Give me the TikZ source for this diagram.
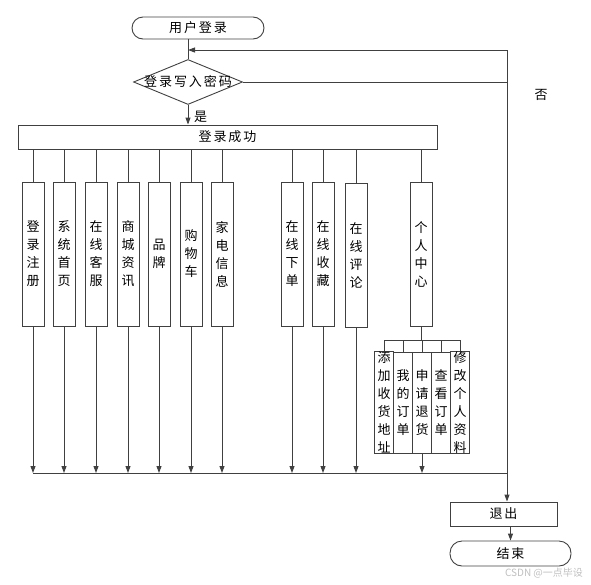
\documentclass[tikz,border=0pt]{standalone}
\usepackage{fontspec}
\newfontfamily\cjk{Noto Sans CJK SC}
\newfontfamily\cjkwide[LetterSpace=15]{Noto Sans CJK SC}
\usetikzlibrary{shapes.geometric,arrows.meta}
\begin{document}
\begin{tikzpicture}[x=1pt,y=-1pt,
  ln/.style={draw=black!75,line width=0.9pt},
  arr/.style={ln,-{Triangle[length=7pt,width=5pt]}},
  vbox/.style={ln,rectangle,minimum width=22pt,minimum height=144pt,inner sep=0pt,
     font=\cjk\fontsize{13}{18}\selectfont,align=center},
  sbox/.style={ln,rectangle,minimum width=19pt,minimum height=101pt,inner sep=0pt,
     font=\cjk\fontsize{13}{18}\selectfont,align=center},
  hbox/.style={ln,rectangle,inner sep=0pt,font=\cjkwide\fontsize{13}{16}\selectfont},
  term/.style={ln,rectangle,rounded corners=11pt,inner sep=0pt,font=\cjkwide\fontsize{13}{16}\selectfont},
  lbl/.style={font=\cjk\fontsize{13}{16}\selectfont,inner sep=0pt}
]
\useasboundingbox (0,0) rectangle (591,584);
% top
\node[term,minimum width=132pt,minimum height=22pt] (start) at (198,28) {用户登录};
\node[ln,diamond,minimum width=109pt,minimum height=45pt,inner sep=0pt] (dia) at (188,82) {};
\node[lbl,font=\cjkwide\fontsize{13}{16}\selectfont] (diat) at (dia.center) {登录写入密码};
\node[hbox,minimum width=419pt,minimum height=24pt] (bar) at (227.5,137) {登录成功};
% boxes
\node[vbox] (b1) at (33,254) {登\\录\\注\\册};
\node[vbox] (b2) at (64,254) {系\\统\\首\\页};
\node[vbox] (b3) at (96,254) {在\\线\\客\\服};
\node[vbox] (b4) at (128,254) {商\\城\\资\\讯};
\node[vbox] (b5) at (159,254) {品\\牌};
\node[vbox] (b6) at (191,254) {购\\物\\车};
\node[vbox] (b7) at (222,254) {家\\电\\信\\息};
\node[vbox] (b8) at (292,254) {在\\线\\下\\单};
\node[vbox] (b9) at (323,254) {在\\线\\收\\藏};
\node[vbox] (b10) at (356,255) {在\\线\\评\\论};
\node[vbox] (b11) at (421,254) {个\\人\\中\\心};
% sub boxes
\node[sbox] (sa) at (384,402.5) {添\\加\\收\\货\\地\\址};
\node[sbox] (sb) at (403,402.5) {我\\的\\订\\单};
\node[sbox] (sc) at (422,402.5) {申\\请\\退\\货};
\node[sbox] (sd) at (441,402.5) {查\\看\\订\\单};
\node[sbox] (se) at (460,402.5) {修\\改\\个\\人\\资\\料};
% bottom
\node[hbox,minimum width=107pt,minimum height=24pt] (exit) at (503.5,514) {退出};
\node[term,minimum width=121pt,minimum height=25pt,rounded corners=12pt] (end) at (510.5,553.5) {结束};
% coordinates
\coordinate (R1) at (507,50);
\coordinate (R2) at (507,82);
\coordinate (busL) at (33,473);
\coordinate (busR) at (507,473);
\coordinate (sub) at (422,340);
% connectors
\draw[ln] (start.south -| dia.north) -- (dia.north);
\draw[arr] (R1) -- (R1 -| dia.north);
\draw[ln] (dia.east) -- (R2);
\draw[arr] (R1) -- (R1 |- exit.north);
\draw[arr] (dia.south) -- (bar.north -| dia.south);
\node[lbl,anchor=west] (yes) at (194,117) {是};
\node[lbl] (no) at (541,95) {否};
\foreach \b in {b1,b2,b3,b4,b5,b6,b7,b8,b9,b10,b11}{
  \draw[ln] (bar.south -| \b.north) -- (\b.north);
}
\foreach \b in {b1,b2,b3,b4,b5,b6,b7,b8,b9,b10}{
  \draw[arr] (\b.south) -- (\b.south |- busL);
}
\draw[ln] (b11.south) -- (b11.south |- sub);
\draw[ln] (sa.north |- sub) -- (se.north |- sub);
\foreach \s in {sa,sb,sc,sd,se}{
  \draw[ln] (\s.north |- sub) -- (\s.north);
}
\draw[arr] (sc.south) -- (sc.south |- busL);
\draw[ln] (busL) -- (busR);
\draw[arr] (exit.south -| end.north) -- (end.north);
\node[font=\cjk\fontsize{10}{12}\selectfont,text=black!25,inner sep=0pt] (wm) at (544,573) {CSDN @一点毕设};
\end{tikzpicture}
\end{document}
